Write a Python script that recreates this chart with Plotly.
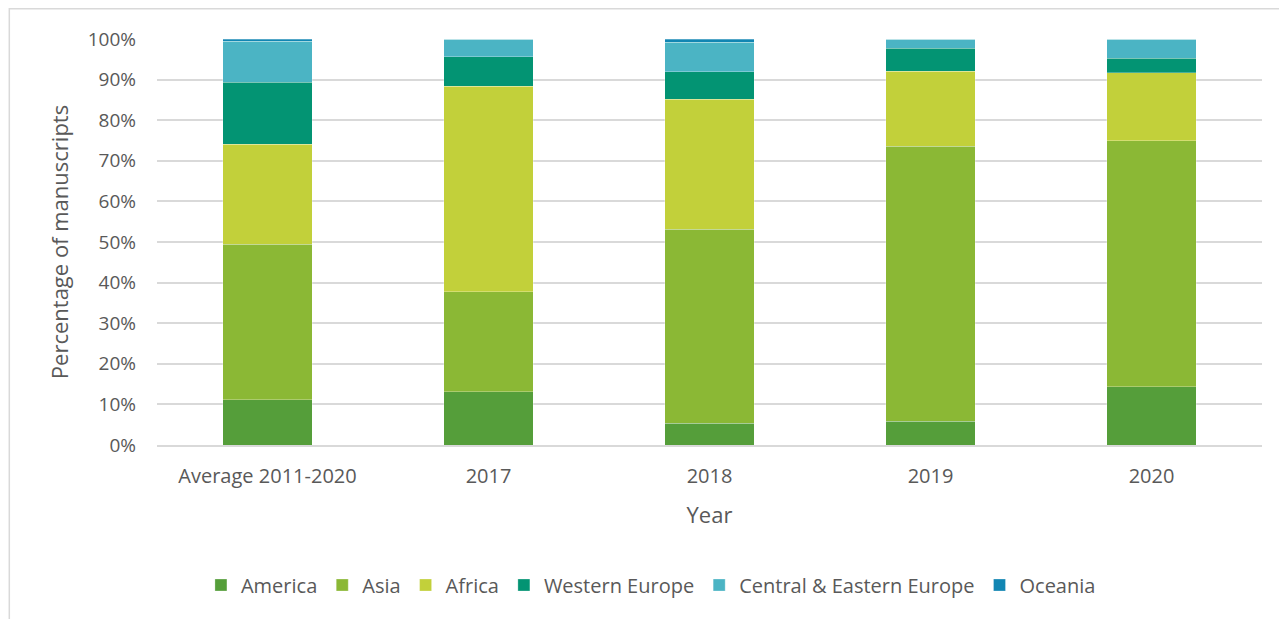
import plotly.graph_objects as go

categories = ["Average 2011-2020", "2017", "2018", "2019", "2020"]
america = [11.2, 13.1, 5.3, 5.8, 14.4]
asia = [38.3, 24.7, 47.9, 67.8, 60.5]
africa = [24.6, 50.6, 31.9, 18.5, 16.8]
western_europe = [15.2, 7.2, 6.8, 5.6, 3.5]
central_eastern_europe = [10.2, 4.4, 7.3, 2.3, 4.8]
oceania = [0.5, 0.0, 0.8, 0.0, 0.0]

series = [
    ("America", america, "#559E3A"),
    ("Asia", asia, "#8BB835"),
    ("Africa", africa, "#C2D03A"),
    ("Western Europe", western_europe, "#039473"),
    ("Central & Eastern Europe", central_eastern_europe, "#4BB4C4"),
    ("Oceania", oceania, "#1286B3"),
]

fig = go.Figure()
for name, vals, color in series:
    fig.add_trace(go.Bar(
        x=categories, y=[v / 100 for v in vals], name=name,
        marker=dict(color=color, line=dict(color="rgba(255,255,255,0.35)", width=0.8)),
    ))

# page has an 8px body margin, so figure coords = page coords - 8
W, H = 1279, 611
l, r, t, b = 148.5, 25, 31, 174
pw, ph = W - l - r, H - t - b
axis_y = H - b  # fig y of 0%

fig.update_layout(
    barmode="stack",
    bargap=0.597,
    width=W, height=H,
    margin=dict(l=l, r=r, t=t, b=b, autoexpand=False),
    paper_bgcolor="white", plot_bgcolor="white",
    font=dict(family="Open Sans", color="#595959", size=20),
    showlegend=True,
    legend=dict(orientation="h", x=0.447, xanchor="center", y=(axis_y - 577) / ph,
                yanchor="middle", font=dict(size=20, color="#595959"),
                traceorder="normal", itemwidth=30),
    xaxis=dict(title=dict(text="Year", font=dict(size=22, color="#595959"), standoff=20),
               showgrid=False, showline=True, linecolor="#D9D9D9", linewidth=1.5,
               ticks="", ticklabelstandoff=12, tickfont=dict(size=20, color="#595959")),
    yaxis=dict(title=dict(text="Percentage of manuscripts", font=dict(size=22, color="#595959"), standoff=12),
               range=[0, 1], dtick=0.1, tickformat=".0%",
               showgrid=True, gridcolor="#D9D9D9", gridwidth=1.5,
               zeroline=False, showline=False, ticks="", ticklabelstandoff=20,
               tickfont=dict(size=19, color="#595959")),
)

# chart area border
fig.add_shape(type="rect", xref="paper", yref="paper",
              x0=(0.75 - l) / pw, x1=(1300 - l) / pw,
              y0=(axis_y - 640) / ph, y1=(axis_y - 0.75) / ph,
              line=dict(color="#D9D9D9", width=1.5), fillcolor="rgba(0,0,0,0)", layer="below")

fig.write_html("out.html")
